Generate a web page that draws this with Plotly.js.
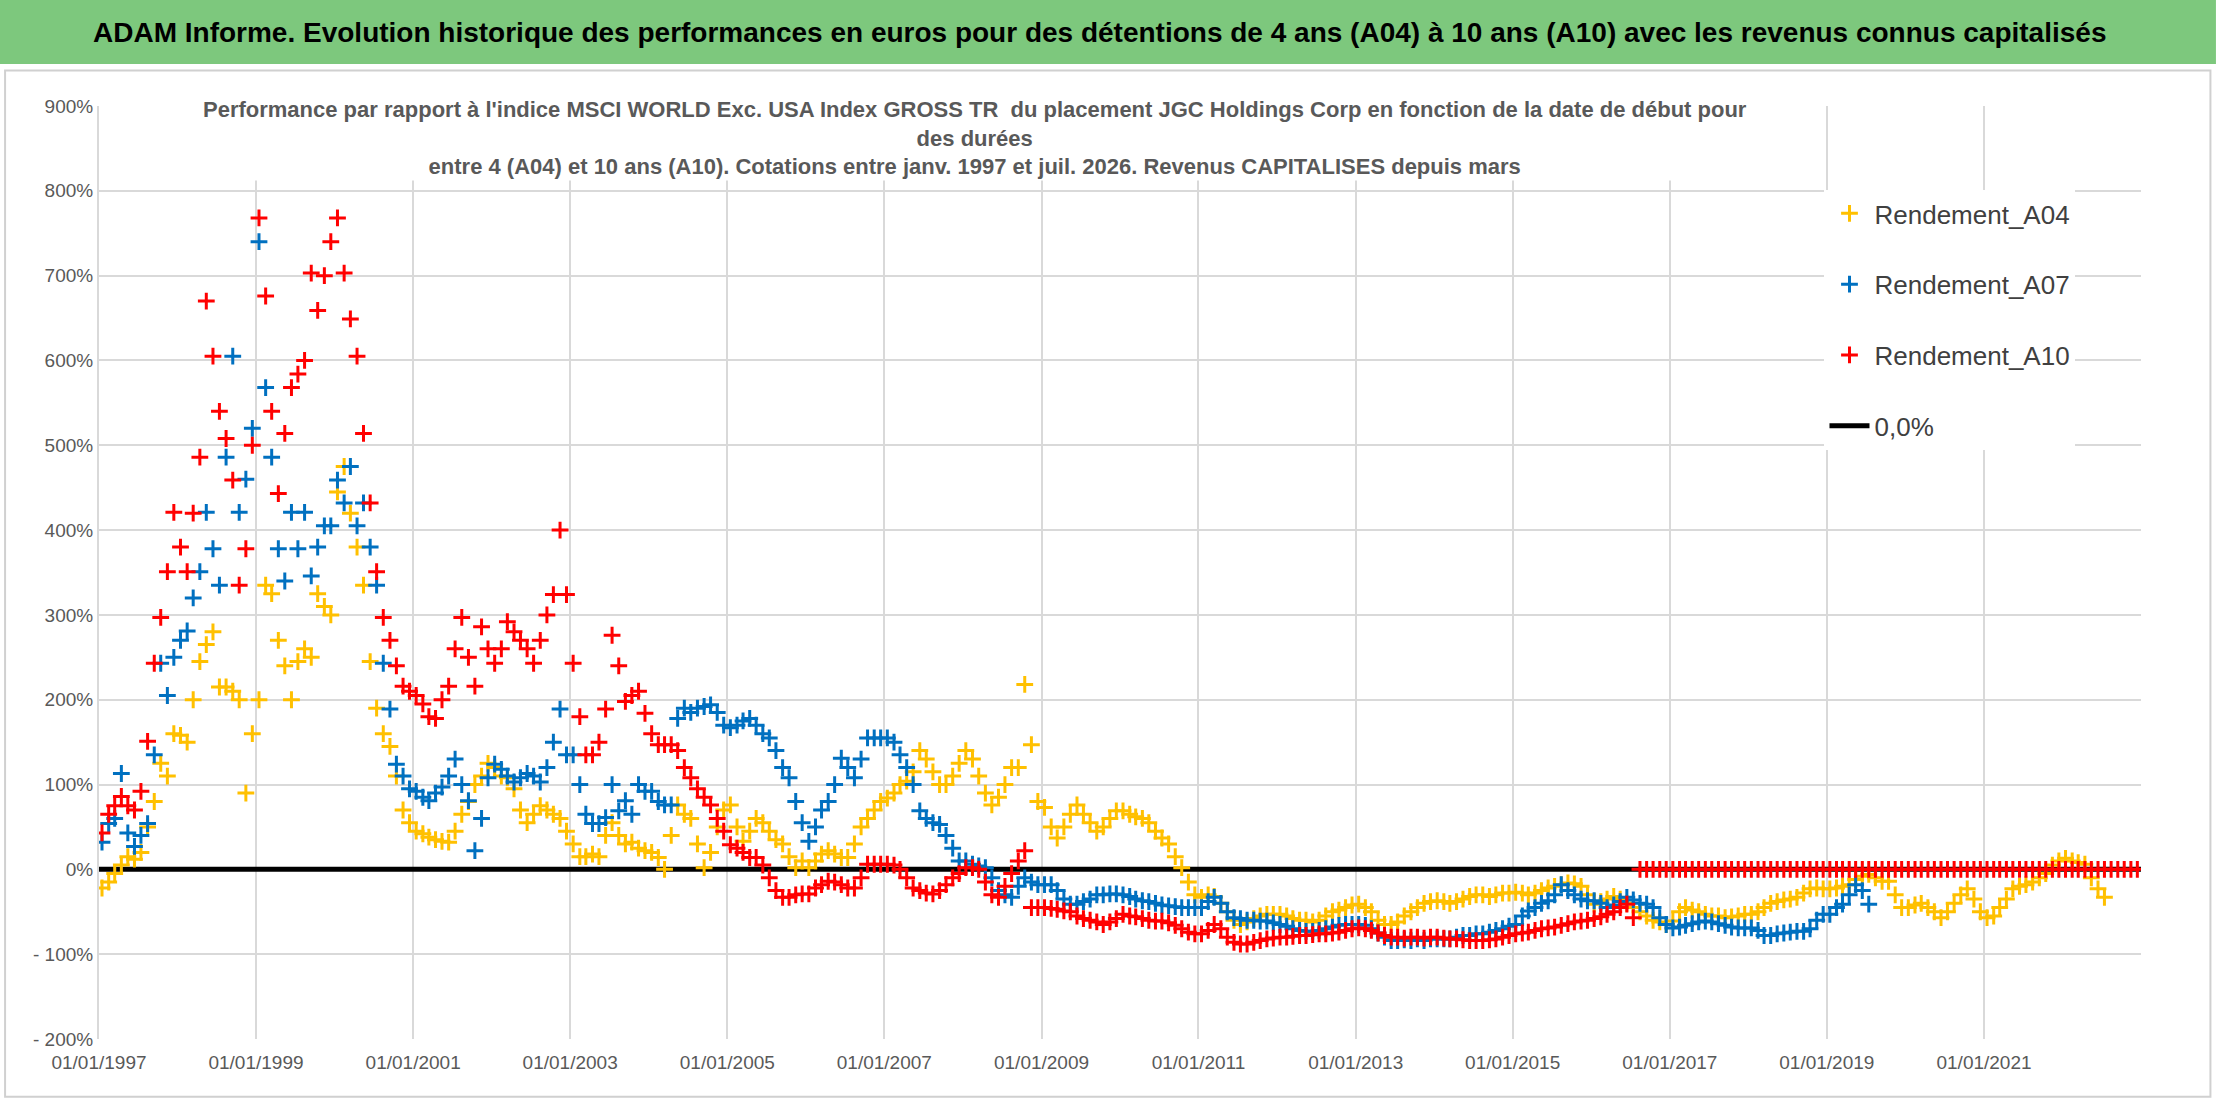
<!DOCTYPE html>
<html>
<head>
<meta charset="utf-8">
<script src="https://cdn.plot.ly/plotly-3.0.1.min.js"></script>
<style>
  body { margin: 0; background: #fff; }
  #chart { width: 2216px; height: 1102px; }
</style>
</head>
<body>
<div id="chart"></div>
<script>
// monthly values (%), first value = janv. 1997
var startYear = 1997;

var rendA04 = [
  -22,-15,-5,5,15,12,20,50,80,125,110,160,
  158,150,200,245,265,280,215,215,210,200,90,160,
  200,335,325,270,240,200,245,260,250,325,310,300,
  445,475,420,380,335,245,190,160,145,110,70,55,
  45,42,38,35,33,32,45,65,80,100,110,125,
  120,110,108,95,70,55,65,75,70,65,60,45,
  30,15,15,18,15,40,55,40,30,32,25,22,
  20,14,0,40,76,65,60,30,2,20,50,70,
  76,50,33,45,60,55,45,35,30,15,2,10,
  2,10,18,22,18,14,14,30,50,60,70,80,
  84,90,100,104,115,140,130,115,100,100,110,125,
  140,130,110,90,76,85,100,120,120,218,147,80,
  73,50,37,50,65,76,65,55,45,50,60,69,
  69,65,62,60,55,45,37,30,15,2,-15,-30,
  -33,-30,-32,-40,-50,-60,-65,-62,-58,-55,-53,-53,
  -53,-55,-58,-60,-60,-62,-60,-55,-50,-48,-45,-42,
  -41,-45,-50,-60,-65,-65,-62,-55,-50,-45,-40,-38,
  -37,-38,-40,-38,-35,-32,-30,-30,-32,-30,-28,-28,
  -27,-28,-30,-28,-25,-22,-20,-18,-16,-17,-20,-30,
  -41,-38,-35,-32,-35,-40,-45,-50,-55,-60,-62,-65,
  -61,-50,-45,-48,-50,-53,-55,-55,-57,-56,-55,-53,
  -53,-50,-45,-40,-38,-36,-35,-33,-28,-23,-22,-23,
  -23,-22,-20,-18,-12,-8,-6,-10,-14,-14,-30,-45,
  -45,-42,-40,-45,-50,-57,-50,-40,-30,-23,-35,-50,
  -57,-55,-45,-35,-23,-20,-18,-15,-10,-5,5,10,
  13,10,8,6,-10,-23,-33
];

var rendA07 = [
  32,54,60,113,43,27,40,54,135,243,205,250,
  270,281,320,351,421,378,335,486,605,421,460,520,
  740,568,486,378,340,421,378,421,346,380,405,405,
  459,432,475,405,432,380,335,243,189,124,110,95,
  92,85,81,90,97,110,130,100,81,22,60,108,
  124,118,110,103,108,113,110,103,120,150,189,135,
  135,100,65,54,54,61,100,69,81,65,100,92,
  92,80,76,76,178,190,185,190,192,194,185,170,
  167,170,175,178,170,160,155,140,120,108,80,55,
  33,50,70,80,100,131,120,108,130,155,155,155,
  155,150,135,120,100,69,60,55,53,40,25,10,
  10,6,4,2,-10,-25,-30,-33,-20,-10,-15,-18,
  -18,-18,-25,-35,-41,-41,-38,-35,-30,-30,-29,-29,
  -30,-32,-35,-37,-38,-40,-42,-43,-44,-45,-45,-45,
  -45,-38,-33,-40,-50,-57,-58,-60,-60,-61,-61,-63,
  -65,-67,-70,-72,-73,-73,-72,-70,-68,-66,-65,-65,
  -65,-66,-70,-75,-80,-84,-84,-83,-84,-82,-84,-82,
  -82,-82,-82,-80,-78,-78,-76,-76,-74,-72,-70,-67,
  -65,-55,-49,-45,-40,-37,-30,-18,-25,-30,-35,-37,
  -37,-40,-45,-42,-38,-33,-36,-40,-41,-45,-57,-65,
  -69,-68,-66,-64,-62,-61,-62,-64,-66,-68,-69,-69,
  -69,-72,-78,-78,-76,-75,-74,-73,-73,-70,-60,-53,
  -53,-45,-41,-30,-18,-25,-41
];

var rendA10 = [
  43,65,75,86,75,70,92,151,243,297,351,421,
  380,351,420,486,670,605,540,508,459,335,378,500,
  768,676,540,443,514,568,584,600,703,659,700,740,
  768,703,649,605,514,432,351,297,270,240,216,210,
  205,195,180,178,200,216,260,297,250,216,286,260,
  243,260,292,280,270,260,243,270,300,324,400,324,
  243,180,135,135,150,189,276,240,198,205,210,184,
  160,147,147,147,140,120,108,95,85,76,60,45,
  29,25,20,14,14,5,-10,-25,-33,-33,-30,-29,
  -29,-22,-18,-14,-15,-18,-22,-22,-10,6,6,6,
  6,5,0,-10,-22,-25,-28,-29,-25,-18,-10,-5,
  2,2,0,-15,-30,-33,-20,-5,10,22,-45,-45,
  -45,-46,-47,-49,-50,-55,-58,-60,-62,-65,-62,-58,
  -53,-55,-56,-58,-60,-61,-61,-63,-66,-70,-74,-76,
  -76,-72,-65,-70,-80,-86,-88,-88,-86,-84,-82,-81,
  -80,-80,-79,-78,-78,-77,-76,-76,-75,-74,-72,-70,
  -69,-70,-72,-75,-78,-80,-80,-81,-80,-80,-81,-80,
  -80,-81,-82,-82,-83,-84,-84,-84,-83,-82,-80,-78,
  -76,-75,-74,-72,-70,-69,-68,-66,-64,-62,-61,-60,
  -58,-56,-53,-50,-45,-41,-57,0,0,0,0,0,
  0,0,0,0,0,0,0,0,0,0,0,0,
  0,0,0,0,0,0,0,0,0,0,0,0,
  0,0,0,0,0,0,0,0,0,0,0,0,
  0,0,0,0,0,0,0,0,0,0,0,0,
  0,0,0,0,0,0,0,0,0,0,0,0,
  0,0,0,0,0,0,0,0,0,0,0,0
];

var zeroDates = ['1997-01-01', '2023-01-01'];
var zeroVals = [0, 0];

var yTickVals = [900, 800, 700, 600, 500, 400, 300, 200, 100, 0, -100, -200];
var yTickText = ['900%', '800%', '700%', '600%', '500%', '400%', '300%', '200%', '100%', '0%', '- 100%', '- 200%'];
var xTickVals = ['1997-01-01','1999-01-01','2001-01-01','2003-01-01','2005-01-01','2007-01-01',
                 '2009-01-01','2011-01-01','2013-01-01','2015-01-01','2017-01-01','2019-01-01','2021-01-01'];
var xTickText = ['01/01/1997','01/01/1999','01/01/2001','01/01/2003','01/01/2005','01/01/2007',
                 '01/01/2009','01/01/2011','01/01/2013','01/01/2015','01/01/2017','01/01/2019','01/01/2021'];

function monthDates(n) {
  var d = [];
  for (var i = 0; i < n; i++) {
    var y = startYear + Math.floor(i / 12);
    var m = (i % 12) + 1;
    d.push(y + '-' + (m < 10 ? '0' + m : m) + '-15');
  }
  return d;
}

var FONT = '"Liberation Sans", Arial, sans-serif';

function crossTrace(name, vals, color, rank) {
  return {
    x: monthDates(vals.length), y: vals, name: name, legendgroup: name,
    type: 'scatter', mode: 'markers', legendrank: rank,
    marker: { symbol: 'cross-thin-open', size: 12, color: color, line: { color: color, width: 3 } }
  };
}

var traces = [
  { x: zeroDates, y: zeroVals, name: '0,0%', legendgroup: 'zero', type: 'scatter', mode: 'lines', legendrank: 4,
    line: { color: '#000000', width: 5 } },
  crossTrace('Rendement_A04', rendA04, '#FFC000', 1),
  crossTrace('Rendement_A07', rendA07, '#0070C0', 2),
  crossTrace('Rendement_A10', rendA10, '#FF0000', 3)
];

var layout = {
  width: 2216, height: 1102,
  margin: { l: 99, r: 75, t: 106, b: 63 },
  paper_bgcolor: '#ffffff', plot_bgcolor: '#ffffff',
  font: { family: FONT, color: '#595959' },
  showlegend: true,
  legend: {
    x: 0.845, y: 0.91, xanchor: 'left', yanchor: 'top',
    bgcolor: '#ffffff', font: { size: 26, color: '#404040', family: FONT },
    tracegroupgap: 34, traceorder: 'grouped', itemwidth: 40
  },
  xaxis: {
    type: 'date', range: ['1997-01-01', '2023-01-01'],
    tickvals: xTickVals, ticktext: xTickText,
    showgrid: true, gridcolor: '#d9d9d9', gridwidth: 2,
    zeroline: false, showline: false, ticks: '', ticklabelstandoff: 10,
    tickfont: { size: 19, color: '#595959' }
  },
  yaxis: {
    range: [-200, 900], tickvals: yTickVals, ticktext: yTickText,
    showgrid: true, gridcolor: '#d9d9d9', gridwidth: 2,
    zeroline: false, showline: true, linecolor: '#d9d9d9', linewidth: 2, ticks: '',
    tickfont: { size: 19, color: '#595959' }
  },
  shapes: [
    { type: 'rect', xref: 'paper', yref: 'paper', x0: -0.0485, x1: 1.0367, y0: 1.045, y1: 1.1136,
      fillcolor: '#7DC87D', line: { width: 0 }, layer: 'below' },
    { type: 'rect', xref: 'paper', yref: 'paper', x0: -0.046, x1: 1.034, y0: -0.062, y1: 1.038,
      fillcolor: 'rgba(0,0,0,0)', line: { color: '#d0d0d0', width: 2 }, layer: 'below' }
  ],
  annotations: [
    { xref: 'paper', yref: 'paper', x: 0.49, y: 1.079, xanchor: 'center', yanchor: 'middle', showarrow: false,
      text: '<b>ADAM Informe. Evolution historique des performances en euros pour des détentions de 4 ans (A04) à 10 ans (A10) avec les revenus connus capitalisés</b>',
      font: { size: 28, color: '#000000', family: FONT } },
    { xref: 'paper', yref: 'paper', x: 0.429, y: 1.012, xanchor: 'center', yanchor: 'top', showarrow: false,
      bgcolor: '#ffffff', align: 'center',
      text: "<b>Performance par rapport à l'indice MSCI WORLD Exc. USA Index GROSS TR  du placement JGC Holdings Corp en fonction de la date de début pour<br>des durées<br>entre 4 (A04) et 10 ans (A10). Cotations entre janv. 1997 et juil. 2026. Revenus CAPITALISES depuis mars</b>",
      font: { size: 22, color: '#595959', family: FONT } }
  ]
};

Plotly.newPlot('chart', traces, layout, { displayModeBar: false, staticPlot: true });
</script>
</body>
</html>
